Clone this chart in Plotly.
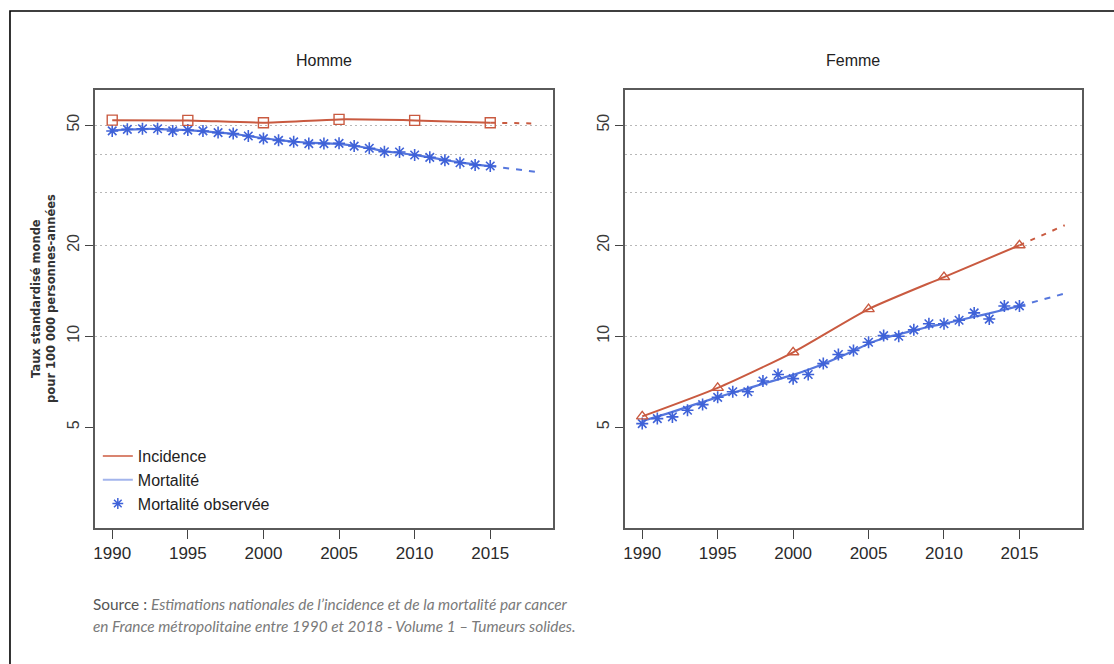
import math
import plotly.graph_objects as go

# ---- data -------------------------------------------------------------
years = list(range(1990, 2016))
marker_years = [1990, 1995, 2000, 2005, 2010, 2015]
proj_years = [2015, 2018]

# Homme
homme_incidence = [51.9, 51.8, 50.9, 52.2, 51.8, 50.9]
homme_incidence_proj = [50.9, 50.6]
homme_mortalite = [48.0, 48.3, 48.5, 48.5, 48.3, 48.1, 47.7, 47.2, 46.7, 46.0,
                   45.2, 44.6, 44.1, 43.7, 43.5, 43.3, 42.7, 41.9, 41.0, 40.4,
                   39.8, 39.1, 38.3, 37.6, 37.0, 36.6]
homme_mortalite_proj = [36.6, 35.0]
homme_mortalite_obs = [47.8, 48.4, 48.6, 48.6, 47.8, 48.1, 47.8, 47.2, 46.9, 46.0,
                       45.1, 44.5, 44.0, 43.4, 43.4, 43.5, 42.6, 41.9, 40.8, 40.7,
                       39.8, 39.1, 38.2, 37.5, 36.9, 36.6]

# Femme
femme_incidence = [5.43, 6.75, 8.85, 12.3, 15.7, 20.0]
femme_incidence_proj = [20.0, 23.3]
femme_mortalite = [5.25, 5.42, 5.62, 5.84, 6.06, 6.28, 6.50, 6.72, 6.96, 7.20,
                   7.45, 7.75, 8.10, 8.50, 8.95, 9.45, 9.85, 10.15, 10.45, 10.75,
                   11.0, 11.3, 11.6, 11.9, 12.25, 12.6]
femme_mortalite_proj = [12.6, 13.85]
femme_mortalite_obs = [5.14, 5.34, 5.41, 5.69, 5.94, 6.28, 6.55, 6.55, 7.11, 7.47,
                       7.24, 7.47, 8.12, 8.70, 8.97, 9.55, 10.05, 10.0, 10.5, 11.0,
                       11.0, 11.3, 11.95, 11.4, 12.6, 12.6]

x_ticks = [1990, 1995, 2000, 2005, 2010, 2015]
y_ticks = [5, 10, 20, 50]
y_grid = [10, 20, 30, 40, 50]

# ---- styling ------------------------------------------------------------
W, H = 1114, 664
RED = "#C95A40"
RED_LIGHT = "#D98470"
BLUE = "#3F62D8"
BLUE_LINE = "#5677DD"
BLUE_LIGHT = "#A3B5EC"
SANS = "Liberation Sans, Arial, sans-serif"


def px_x(p):
    return p / W


def px_y(p):
    return 1 - p / H


fig = go.Figure()


def add_panel(xa, ya, inc, inc_proj, inc_symbol, mort, mort_proj, obs):
    fig.add_trace(go.Scatter(
        x=years, y=mort, mode="lines", showlegend=False,
        line=dict(color=BLUE_LINE, width=2.2, shape="spline", smoothing=0.6),
        xaxis=xa, yaxis=ya))
    fig.add_trace(go.Scatter(
        x=proj_years, y=mort_proj, mode="lines", showlegend=False,
        line=dict(color=BLUE_LINE, width=2, dash="6px,7px"),
        xaxis=xa, yaxis=ya))
    fig.add_trace(go.Scatter(
        x=years, y=obs, mode="markers", showlegend=False,
        marker=dict(symbol="asterisk-open", size=10, color=BLUE,
                    line=dict(color=BLUE, width=1.6)),
        xaxis=xa, yaxis=ya))
    fig.add_trace(go.Scatter(
        x=marker_years, y=inc, mode="lines", showlegend=False,
        line=dict(color=RED, width=2, shape="spline", smoothing=0.6),
        xaxis=xa, yaxis=ya))
    fig.add_trace(go.Scatter(
        x=proj_years, y=inc_proj, mode="lines", showlegend=False,
        line=dict(color=RED, width=2, dash="5px,7px"),
        xaxis=xa, yaxis=ya))
    fig.add_trace(go.Scatter(
        x=marker_years, y=inc, mode="markers", showlegend=False,
        marker=dict(symbol=inc_symbol, size=10, color=RED,
                    line=dict(color=RED, width=1.4)),
        xaxis=xa, yaxis=ya))


add_panel("x", "y", homme_incidence, homme_incidence_proj, "square-open",
          homme_mortalite, homme_mortalite_proj, homme_mortalite_obs)
add_panel("x2", "y2", femme_incidence, femme_incidence_proj, "triangle-up-open",
          femme_mortalite, femme_mortalite_proj, femme_mortalite_obs)

# legend keys (lighter strokes, as in the printed key)
fig.add_trace(go.Scatter(x=[None], y=[None], mode="lines", name="Incidence",
                         line=dict(color=RED_LIGHT, width=2), legendgroup="a",
                         legendrank=1, xaxis="x", yaxis="y"))
fig.add_trace(go.Scatter(x=[None], y=[None], mode="lines", name="Mortalité",
                         line=dict(color=BLUE_LIGHT, width=2), legendgroup="b",
                         legendrank=2, xaxis="x", yaxis="y"))
fig.add_trace(go.Scatter(x=[None], y=[None], mode="markers", name="Mortalité observée",
                         marker=dict(symbol="asterisk-open", size=9, color=BLUE,
                                     line=dict(color=BLUE, width=1.5)),
                         legendgroup="c", legendrank=3, xaxis="x", yaxis="y"))

xaxis_style = dict(
    range=[1988.85, 2019.15], tickvals=x_ticks, showgrid=False, zeroline=False,
    showline=True, mirror=True, linecolor="#5a5a5a", linewidth=1.6,
    ticks="outside", ticklen=9, tickwidth=1.3, tickcolor="#444",
    tickfont=dict(family=SANS, size=17, color="#2a2a2a"))
yaxis_style = dict(
    type="log", range=[math.log10(2.32), math.log10(65.3)],
    tickvals=y_ticks, ticktext=[str(v) for v in y_ticks], tickangle=-90,
    showgrid=False, zeroline=False,
    showline=True, mirror=True, linecolor="#5a5a5a", linewidth=1.6,
    ticks="outside", ticklen=8, tickwidth=1.3, tickcolor="#444",
    tickfont=dict(family=SANS, size=16, color="#3a3a3a"),
    minor=dict(tickvals=y_grid, ticks="", showgrid=True, gridcolor="#b8b8b8",
               gridwidth=1.3, griddash="2px,3px"))

fig.update_layout(
    width=W, height=H,
    margin=dict(l=0, r=0, t=0, b=0),
    paper_bgcolor="white", plot_bgcolor="white",
    xaxis=dict(domain=[px_x(93), px_x(552)], anchor="y", **xaxis_style),
    yaxis=dict(domain=[px_y(528), px_y(90)], anchor="x", **yaxis_style),
    xaxis2=dict(domain=[px_x(624), px_x(1082)], anchor="y2", **xaxis_style),
    yaxis2=dict(domain=[px_y(528), px_y(90)], anchor="x2", **yaxis_style),
    legend=dict(x=px_x(96), y=px_y(439), xanchor="left", yanchor="top",
                bgcolor="rgba(0,0,0,0)", tracegroupgap=0,
                font=dict(family=SANS, size=16, color="#222"),
                itemwidth=30),
    showlegend=True,
)

# outer frame
fig.add_shape(type="rect", xref="paper", yref="paper",
              x0=px_x(8), x1=1.02, y0=-0.02, y1=px_y(11),
              line=dict(color="black", width=1.6), fillcolor="rgba(0,0,0,0)")

for text, xpos in [("Homme", 323), ("Femme", 853)]:
    fig.add_annotation(text=text, x=px_x(xpos), y=px_y(60), xref="paper", yref="paper",
                       showarrow=False, xanchor="center", yanchor="middle",
                       font=dict(family=SANS, size=16, color="#222"))

YT = "DejaVu Sans, Liberation Sans, sans-serif"
fig.add_annotation(text="<b>Taux standardisé monde</b>", x=px_x(34), y=px_y(298),
                   xref="paper", yref="paper", showarrow=False, textangle=-90,
                   xanchor="center", yanchor="middle",
                   font=dict(family=YT, size=11.5, color="#333"))
fig.add_annotation(text="<b>pour 100 000 personnes-années</b>", x=px_x(49), y=px_y(298),
                   xref="paper", yref="paper", showarrow=False, textangle=-90,
                   xanchor="center", yanchor="middle",
                   font=dict(family=YT, size=11.5, color="#333"))

SRC = "Lato, Open Sans, sans-serif"
fig.add_annotation(
    text="<span style='color:#555'>Source :</span> <i>Estimations nationales de l’incidence et de la mortalité par cancer</i>",
    x=px_x(89), y=px_y(604), xref="paper", yref="paper", showarrow=False,
    xanchor="left", yanchor="middle", font=dict(family=SRC, size=15.4, color="#7a7a7a"))
fig.add_annotation(
    text="<i>en France métropolitaine entre 1990 et 2018 - Volume 1 – Tumeurs solides.</i>",
    x=px_x(89), y=px_y(626), xref="paper", yref="paper", showarrow=False,
    xanchor="left", yanchor="middle", font=dict(family=SRC, size=15.4, color="#7a7a7a"))

fig.write_html("out.html")
